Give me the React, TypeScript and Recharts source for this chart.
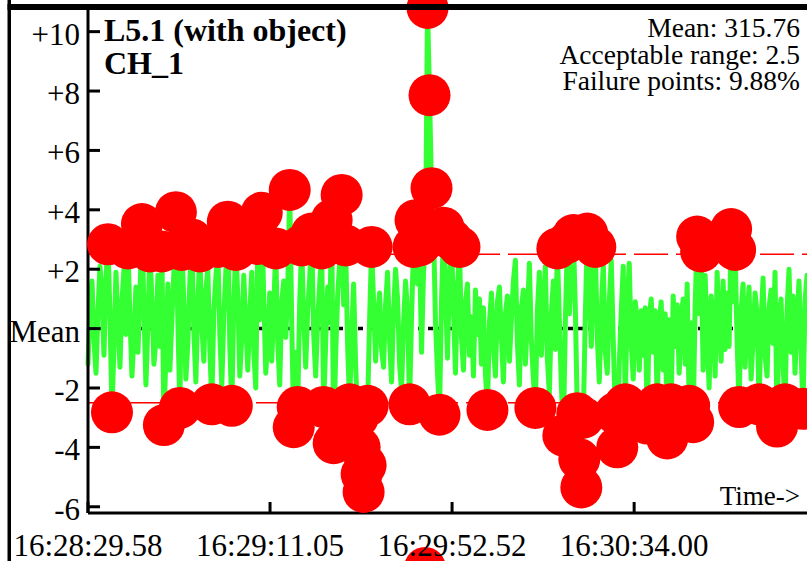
import React from "react";
import { LineChart, Line, XAxis, YAxis, ReferenceLine, ReferenceDot } from "recharts";

// tick labels for the time axis (seconds from first sample)
const TIME_TICKS = [0, 41.47, 82.94, 124.42];
const TIME_LABELS = ["16:28:29.58", "16:29:11.05", "16:29:52.52", "16:30:34.00"];
const TIME_SPAN = 163.8;

const Y_TICKS = [-6, -4, -2, 0, 2, 4, 6, 8, 10];
const Y_DOMAIN = [-6.21, 10.83];
const LIMIT = 2.5;

// deviation from the mean, one value per sample
const DEVIATION = [
  -1.2, 0.8, 1.6, -0.4, -1.5, 0.6, 2.1, 1.2, -0.9, 1.7, 2.84, 0.5, -2.82, -0.6, 1.9, 0.3, -1.3, 0.9, 2.0, -0.2,
  2.7, 0.4, -1.6, -0.3, 1.4, -0.8, 1.1, 3.52, 0.7, -1.9, 0.2, 2.6, 1.0, -1.2, -0.4, 1.8, -0.6, 2.6, -3.25, -0.9,
  1.5, -1.4, 0.3, 1.9, 3.92, 0.2, -2.67, 2.65, 0.9, -1.7, -0.5, 1.6, 3.0, -0.1, -1.8, 0.8, 2.6, 0.1, -1.1, 1.3,
  2.0, -0.7, -2.55, 0.6, 1.7, 2.75, -0.2, -1.9, 0.4, 1.9, 3.6, -0.6, -2.6, 0.8, 2.65, 1.1, -1.6, -0.3, 1.8, 0.2,
  -1.4, 0.5, 1.9, -0.8, -2.0, 2.85, 0.3, 3.9, 1.0, -1.5, -0.4, 1.2, -1.1, 0.7, 2.7, -0.5, -1.9, 0.9, 1.6, -0.3,
  1.3, 4.67, 0.2, -3.32, -0.8, -2.64, 0.9, 2.8, 0.4, -1.3, 0.6, 1.7, 3.2, -0.2, -1.6, 0.3, 1.5, 2.7, -2.64, -0.5,
  1.4, 0.2, 3.66, -3.86, -0.9, 1.1, 2.2, 4.5, 0.8, 2.8, -0.6, -2.55, -0.2, 1.5, -1.2, -3.0, -4.0, -4.9, -5.5, -4.6,
  -2.6, 0.3, 2.75, 0.9, -1.1, 0.4, 1.2, -0.7, -1.3, 0.8, 1.9, -0.4, -1.8, 0.6, 2.0, 1.0, -1.2, -2.1, 0.2, 1.6,
  0.5, -2.55, 0.4, 2.75, 3.65, 1.5, 2.8, -0.8, 1.9, 3.0, 10.8, 7.86, 4.73, 3.3, 0.2, -1.5, -2.9, 0.9, 3.4, 1.2,
  -1.0, 1.8, 3.0, 0.6, -1.5, 1.4, 2.75, -0.3, -1.4, 0.9, 1.5, -0.9, 0.4, -1.6, 1.3, -0.2, 1.0, -1.2, 0.7, -1.5,
  -2.74, 0.2, 1.2, -0.6, -1.6, 0.9, 1.4, -0.3, -1.8, 0.5, 1.1, -1.1, 0.3, 1.6, 2.3, -0.5, -1.9, 0.7, 1.3, -1.2,
  0.4, 2.2, -0.4, -1.7, -2.67, 0.6, 1.9, -0.9, 0.8, 2.1, -1.0, -2.2, 0.5, 1.6, -0.7, 2.7, 0.3, -1.9, -3.6, 0.2,
  2.9, 0.5, 1.8, 3.15, 0.7, -2.85, -4.4, -5.35, -3.0, 0.4, 3.2, 1.2, -0.6, 1.9, 2.75, -0.3, -1.8, 0.6, 2.2, -0.8,
  -1.5, 0.9, 2.3, -0.4, -2.85, -4.0, -1.2, 0.6, 2.1, -2.55, 0.8, 2.2, -0.5, -1.7, 0.9, 0.3, -1.4, 0.6, -0.9, 0.7,
  -3.2, 0.4, 1.0, -0.8, 0.6, -2.55, 0.2, 0.9, -1.4, 0.5, -3.7, 0.3, -2.55, 1.1, -0.6, 0.8, -1.5, 0.4, 1.0, -1.2,
  1.5, -2.6, 0.2, -3.15, 0.8, 3.1, 0.5, 2.6, -1.4, 1.8, -0.3, -2.0, 1.1, 0.4, -1.6, 1.9, 0.1, -1.1, 1.6, -0.7,
  1.2, -0.6, 3.35, 0.9, 2.65, -0.4, -2.64, 0.6, 1.5, -1.3, 0.3, 1.4, -1.7, -0.4, 1.2, 0.5, -2.55, 0.2, 1.7, -0.9,
  -1.6, 0.7, 1.3, -0.5, 1.9, -3.3, 0.4, 1.0, -1.2, -2.55, 0.6, 2.0, -0.8, 1.1, -1.5, 0.3, 1.6, -0.7, -2.7, 0.9,
  1.8,
];

// point that falls below the visible range
const OFF_SCALE = [{ t: 76.77, v: -8.06 }];

const STATS = ["Mean: 315.76", "Acceptable range: 2.5", "Failure points: 9.88%"];
const TITLE = ["L5.1 (with object)", "CH_1"];

const data = DEVIATION.map((v, i) => ({ t: (i * TIME_SPAN) / (DEVIATION.length - 1), v }));

const FONT = "'Liberation Serif', serif";

function YTick(props: any) {
  const { x, y, payload } = props;
  const v = payload.value;
  const label = v === 0 ? "Mean" : v > 0 ? `+${v}` : `${v}`;
  return (
    <g>
      <line x1={x + 7} x2={x + 20} y1={y} y2={y} stroke="#000" strokeWidth={3} />
      <text x={x} y={y + 13} textAnchor="end" fontFamily={FONT} fontSize={31} fill="#000">
        {label}
      </text>
    </g>
  );
}

function TimeTick(props: any) {
  const { x, y, payload } = props;
  const idx = TIME_TICKS.indexOf(payload.value);
  return (
    <g>
      <line x1={x} x2={x} y1={y - 8} y2={y - 19} stroke="#000" strokeWidth={3} />
      <text x={x} y={y + 35} textAnchor="middle" fontFamily={FONT} fontSize={31} fill="#000">
        {TIME_LABELS[idx]}
      </text>
    </g>
  );
}

function FailDot(props: any) {
  const { cx, cy, value, index } = props;
  if (Math.abs(value) <= LIMIT) return <g key={index} />;
  return <circle key={index} cx={cx} cy={cy} r={21} fill="#ff0000" stroke="none" />;
}

export default function App() {
  return (
    <div style={{ position: "relative", width: 807, height: 561, background: "#fff" }}>
      <style>{"body{margin:0;overflow:hidden;background:#fff}"}</style>
      <LineChart width={807} height={561} data={data} margin={{ top: 7, right: 0, bottom: 0, left: 0 }}>
        <XAxis
          type="number"
          dataKey="t"
          domain={[0, TIME_SPAN]}
          ticks={TIME_TICKS}
          interval={0}
          height={48}
          tickLine={false}
          axisLine={{ stroke: "#000", strokeWidth: 3 }}
          tick={<TimeTick />}
        />
        <YAxis
          type="number"
          domain={Y_DOMAIN}
          ticks={Y_TICKS}
          interval={0}
          width={88}
          tickLine={false}
          axisLine={{ stroke: "#000", strokeWidth: 3 }}
          tick={<YTick />}
        />
        <ReferenceLine y={0} stroke="#000" strokeWidth={3.5} strokeDasharray="5 5" />
        <ReferenceLine y={LIMIT} stroke="#ff0000" strokeWidth={1.5} strokeDasharray="34 8" />
        <ReferenceLine y={-LIMIT} stroke="#ff0000" strokeWidth={1.5} strokeDasharray="34 8" />
        <Line
          type="linear"
          dataKey="v"
          stroke="#33ff33"
          strokeWidth={5}
          strokeLinejoin="round"
          strokeLinecap="round"
          dot={FailDot}
          activeDot={false}
          isAnimationActive={false}
        />
        {OFF_SCALE.map((p, i) => (
          <ReferenceDot key={i} x={p.t} y={p.v} r={21} fill="#ff0000" stroke="none" ifOverflow="visible" />
        ))}
      </LineChart>
      <svg
        width={807}
        height={561}
        style={{ position: "absolute", left: 0, top: 0, pointerEvents: "none" }}
      >
        <rect x={7.5} y={0} width={3.5} height={561} fill="#000" />
        <rect x={7.5} y={4} width={800} height={6} fill="#000" />
        {TITLE.map((t, i) => (
          <text key={t} x={104} y={41 + i * 33.3} fontFamily={FONT} fontWeight="bold" fontSize={32} fill="#000">
            {t}
          </text>
        ))}
        {STATS.map((t, i) => (
          <text key={t} x={800} y={37 + i * 26.7} textAnchor="end" fontFamily={FONT} fontSize={27.5} fill="#000">
            {t}
          </text>
        ))}
        <text x={800} y={505} textAnchor="end" fontFamily={FONT} fontSize={27} fill="#000">
          Time-&gt;
        </text>
      </svg>
    </div>
  );
}
